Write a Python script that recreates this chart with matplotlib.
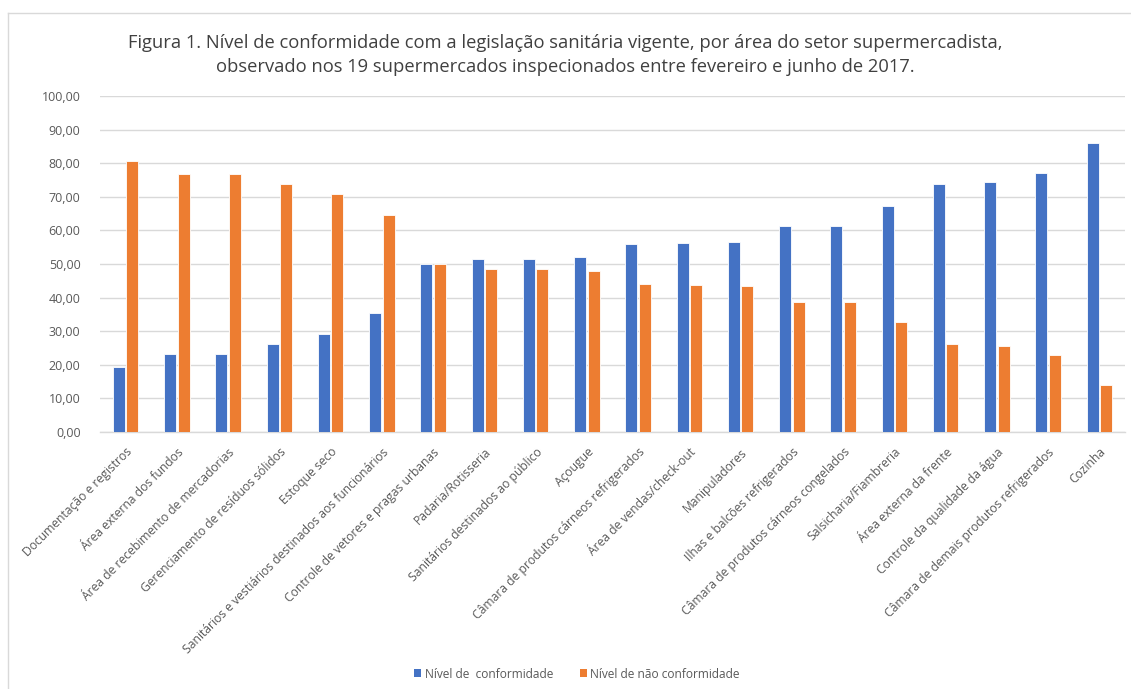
import matplotlib
matplotlib.use("Agg")
import matplotlib.pyplot as plt
from matplotlib.lines import Line2D
from matplotlib.patches import Patch
import numpy as np

categories = [
    "Documentação e registros",
    "Área externa dos fundos",
    "Área de recebimento de mercadorias",
    "Gerenciamento de resíduos sólidos",
    "Estoque seco",
    "Sanitários e vestiários destinados aos funcionários",
    "Controle de vetores e pragas urbanas",
    "Padaria/Rotisseria",
    "Sanitários destinados ao público",
    "Açougue",
    "Câmara de produtos cárneos refrigerados",
    "Área de vendas/check-out",
    "Manipuladores",
    "Ilhas e balcões refrigerados",
    "Câmara de produtos cárneos congelados",
    "Salsicharia/Fiambreria",
    "Área externa da frente",
    "Controle da qualidade da água",
    "Câmara de demais produtos refrigerados",
    "Cozinha",
]
conformidade = [19.4, 23.1, 23.1, 26.3, 29.2, 35.4, 50.0, 51.6, 51.6, 52.2,
                55.9, 56.2, 56.6, 61.4, 61.4, 67.2, 73.7, 74.3, 77.0, 86.0]
nao_conformidade = [80.6, 76.9, 76.9, 73.7, 70.8, 64.6, 50.0, 48.4, 48.4, 47.8,
                    44.1, 43.8, 43.4, 38.6, 38.6, 32.8, 26.3, 25.7, 23.0, 14.0]
yticks = [0, 10, 20, 30, 40, 50, 60, 70, 80, 90, 100]
series_names = ["Nível de  conformidade", "Nível de não conformidade"]

plt.rcParams['font.family'] = ['Open Sans', 'DejaVu Sans']

BLUE = "#4472C4"
ORANGE = "#ED7D31"
TXT = "#595959"

fig = plt.figure(figsize=(11.31, 6.89), dpi=100)
ax = fig.add_axes([100/1131, 1-432/689, 1025/1131, 336/689])

x = np.arange(len(categories))
w = 0.235
ax.bar(x - 0.13, conformidade, width=w, color=BLUE, edgecolor="white", linewidth=0.6, zorder=3)
ax.bar(x + 0.13, nao_conformidade, width=w, color=ORANGE, edgecolor="white", linewidth=0.6, zorder=3)

ax.set_xlim(-0.5, len(categories) - 0.5)
ax.set_ylim(0, 100)
ax.set_yticks(yticks)
ax.set_yticklabels([f"{v:.2f}".replace(".", ",") for v in yticks], color=TXT, fontsize=9)
ax.yaxis.grid(True, color="#D9D9D9", linewidth=1, zorder=0)
ax.tick_params(axis="y", length=0, pad=14)
ax.tick_params(axis="x", length=0, pad=4)
for s in ["top", "right", "left"]:
    ax.spines[s].set_visible(False)
ax.spines["bottom"].set_color("#D9D9D9")
ax.spines["bottom"].set_linewidth(1)

ax.set_xticks(x)
ax.set_xticklabels(categories, rotation=45, ha="right", rotation_mode="anchor",
                   color=TXT, fontsize=8.7)
for lbl in ax.get_xticklabels():
    lbl.set_transform(lbl.get_transform() + matplotlib.transforms.ScaledTranslation(0/100, -8/100, fig.dpi_scale_trans))

fig.text(0.5, 1-43/689,
         "Figura 1. Nível de conformidade com a legislação sanitária vigente, por área do setor supermercadista,",
         ha="center", va="center", fontsize=13.2, color="#404040")
fig.text(0.5, 1-67/689,
         "observado nos 19 supermercados inspecionados entre fevereiro e junho de 2017.",
         ha="center", va="center", fontsize=13.2, color="#404040")

handles = [Patch(facecolor=BLUE), Patch(facecolor=ORANGE)]
fig.legend(handles, series_names, loc="center", bbox_to_anchor=(577/1131, 1-674/689),
           ncol=2, frameon=False, fontsize=8.6, labelcolor=TXT,
           handlelength=0.6, handleheight=0.6, handletextpad=0.3, columnspacing=2.2)

# chart border
fig.add_artist(Line2D([8/1131, 8/1131], [0, 1-13/689], transform=fig.transFigure, color="#D9D9D9", linewidth=1))
fig.add_artist(Line2D([8/1131, 1], [1-13/689, 1-13/689], transform=fig.transFigure, color="#D9D9D9", linewidth=1))

fig.savefig("out.png", dpi=100)
